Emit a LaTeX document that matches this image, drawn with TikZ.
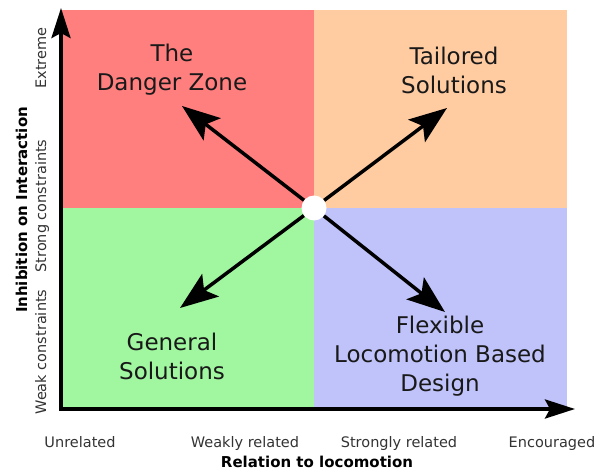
\documentclass[tikz,border=0pt]{standalone}
\usepackage{fontspec}
\setmainfont{DejaVu Sans}
\usetikzlibrary{arrows.meta}
\definecolor{zonered}{HTML}{FF7F7F}
\definecolor{zonepeach}{HTML}{FFCCA2}
\definecolor{zonegreen}{HTML}{A0F7A0}
\definecolor{zoneblue}{HTML}{C0C3FA}
\begin{document}
\begin{tikzpicture}[x=1pt, y=-1pt, >={Stealth[length=38pt, width=28pt, inset=8pt]},
  big/.style={font=\fontsize{23}{29}\selectfont, align=center, text=black!90},
  tick/.style={font=\fontsize{14.5}{17}\selectfont, text=black!80, anchor=base},
  axlabel/.style={font=\fontsize{15}{18}\selectfont\bfseries, anchor=base}]
\useasboundingbox (0,0) rectangle (604,470);
% quadrants
\fill[zonered] (62,10) rectangle (314,208);
\fill[zonepeach] (314,10) rectangle (567,208);
\fill[zonegreen] (62,208) rectangle (314,409);
\fill[zoneblue] (314,208) rectangle (567,409);
% axes
\coordinate (ytop) at (61,8);
\coordinate (o) at (61,409);
\coordinate (xend) at (575,409);
\draw[line width=3.7pt, {Stealth[length=30pt, width=19pt, inset=5pt]}-{Stealth[length=30pt, width=19pt, inset=5pt]}]
  (ytop) -- (o) -- (xend);
% centre and the four directions
\node[circle, fill=white, minimum size=25pt, inner sep=0pt] (c) at (314,208) {};
\coordinate (dz) at (182,106);
\coordinate (ts) at (447,108);
\coordinate (gs) at (180,308);
\coordinate (fl) at (445,312);
\foreach \t in {dz,ts,gs,fl}
  \draw[line width=3.5pt, ->] (c) -- (\t);
% quadrant names
\node[big] (danger) at (172,70) {The\\Danger Zone};
\node[big] (tailored) at (454,70) {Tailored\\Solutions};
\node[big] (general) at (172,356) {General\\Solutions};
\node[big] (flexible) at (440,356) {Flexible\\Locomotion Based\\Design};
% x axis
\node[tick] (unrel) at (80,447) {Unrelated};
\node[tick] (weakrel) at (245,447) {Weakly related};
\node[tick] (strongrel) at (399,447) {Strongly related};
\node[tick] (encour) at (552,447) {Encouraged};
\node[axlabel] (xlab) at (317,467) {Relation to locomotion};
% y axis
\node[tick, rotate=90] (extreme) at (46,58) {Extreme};
\node[tick, rotate=90] (strongc) at (46,206) {Strong constraints};
\node[tick, rotate=90] (weakc) at (46,352) {Weak constraints};
\node[axlabel, rotate=90] (ylab) at (27,210) {Inhibition on Interaction};
\end{tikzpicture}
\end{document}
